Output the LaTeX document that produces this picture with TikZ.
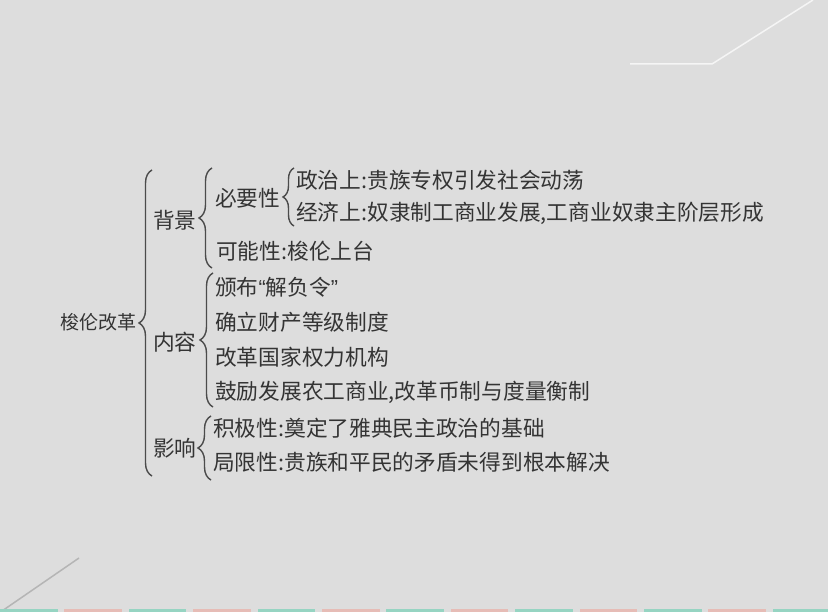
\documentclass[tikz,border=0pt]{standalone}
\usepackage{fontspec}
\newfontfamily\cjk{Noto Sans CJK SC}
\newfontfamily\qfont{Liberation Sans}
\usetikzlibrary{decorations.pathreplacing}
\definecolor{bgc}{RGB}{221,221,221}
\definecolor{txt}{RGB}{52,52,52}
\definecolor{brc}{RGB}{75,75,75}
\definecolor{teal1}{RGB}{150,212,194}
\definecolor{pink1}{RGB}{230,188,182}
\tikzset{
  lbl/.style={anchor=west, inner sep=0pt, text=txt, font=\cjk\fontsize{21.7}{21.7}\selectfont},
  toplbl/.style={anchor=west, inner sep=0pt, text=txt, font=\cjk\fontsize{19}{19}\selectfont},
  brc/.style={draw=brc, line width=1.4pt, decorate, decoration={brace, amplitude=#1}},
  brc/.default=13pt,
  deco/.style={line width=1.5pt},
}
\begin{document}
\begin{tikzpicture}[x=1pt,y=-1pt]
\fill[bgc] (0,0) rectangle (828,612);
\useasboundingbox (0,0) rectangle (828,612);
% decorative lines
\draw[deco, draw=white!70!bgc] (630,64) -- (712,64) -- (813,0);
\draw[deco, draw=black!18!bgc] (2,611) -- (79,558);
% bottom strips
\foreach \i in {0,...,12}{
  \pgfmathsetmacro{\xs}{\i*64.4}
  \ifodd\i
    \fill[pink1] (\xs,608.5) rectangle ++(57.5,3.5);
  \else
    \fill[teal1] (\xs,608.5) rectangle ++(57.5,3.5);
  \fi
}
% texts
\node[toplbl] (root) at (60,322) {梭伦改革};
\node[lbl] (bj) at (153,220) {背景};
\node[lbl] (nr) at (153,342) {内容};
\node[lbl] (yx) at (153,448) {影响};
\node[lbl] (byx) at (215,198) {必要性};
\node[lbl] (zz) at (296,180) {政治上:贵族专权引发社会动荡};
\node[lbl] (jj) at (296,213) {经济上:奴隶制工商业发展,工商业奴隶主阶层形成};
\node[lbl] (knx) at (216,251) {可能性:梭伦上台};
\node[lbl] (bb) at (215,287) {颁布{\qfont “}解负令{\qfont ”}};
\node[lbl] (ql) at (215,322) {确立财产等级制度};
\node[lbl] (gg) at (215,357) {改革国家权力机构};
\node[lbl] (gl) at (215,392) {鼓励发展农工商业,改革币制与度量衡制};
\node[lbl] (jjx) at (213,428) {积极性:奠定了雅典民主政治的基础};
\node[lbl] (jxx) at (213,462) {局限性:贵族和平民的矛盾未得到根本解决};
% braces
\coordinate (b0a) at (152,476); \coordinate (b0b) at (152,170);
\coordinate (b1a) at (212,268); \coordinate (b1b) at (212,168);
\coordinate (b2a) at (294,226); \coordinate (b2b) at (294,168);
\coordinate (b3a) at (213,407); \coordinate (b3b) at (213,273);
\coordinate (b4a) at (211,480); \coordinate (b4b) at (211,416);
\draw[brc] (b0a) -- (b0b);
\draw[brc] (b1a) -- (b1b);
\draw[brc=11pt] (b2a) -- (b2b);
\draw[brc] (b3a) -- (b3b);
\draw[brc] (b4a) -- (b4b);
\end{tikzpicture}
\end{document}
